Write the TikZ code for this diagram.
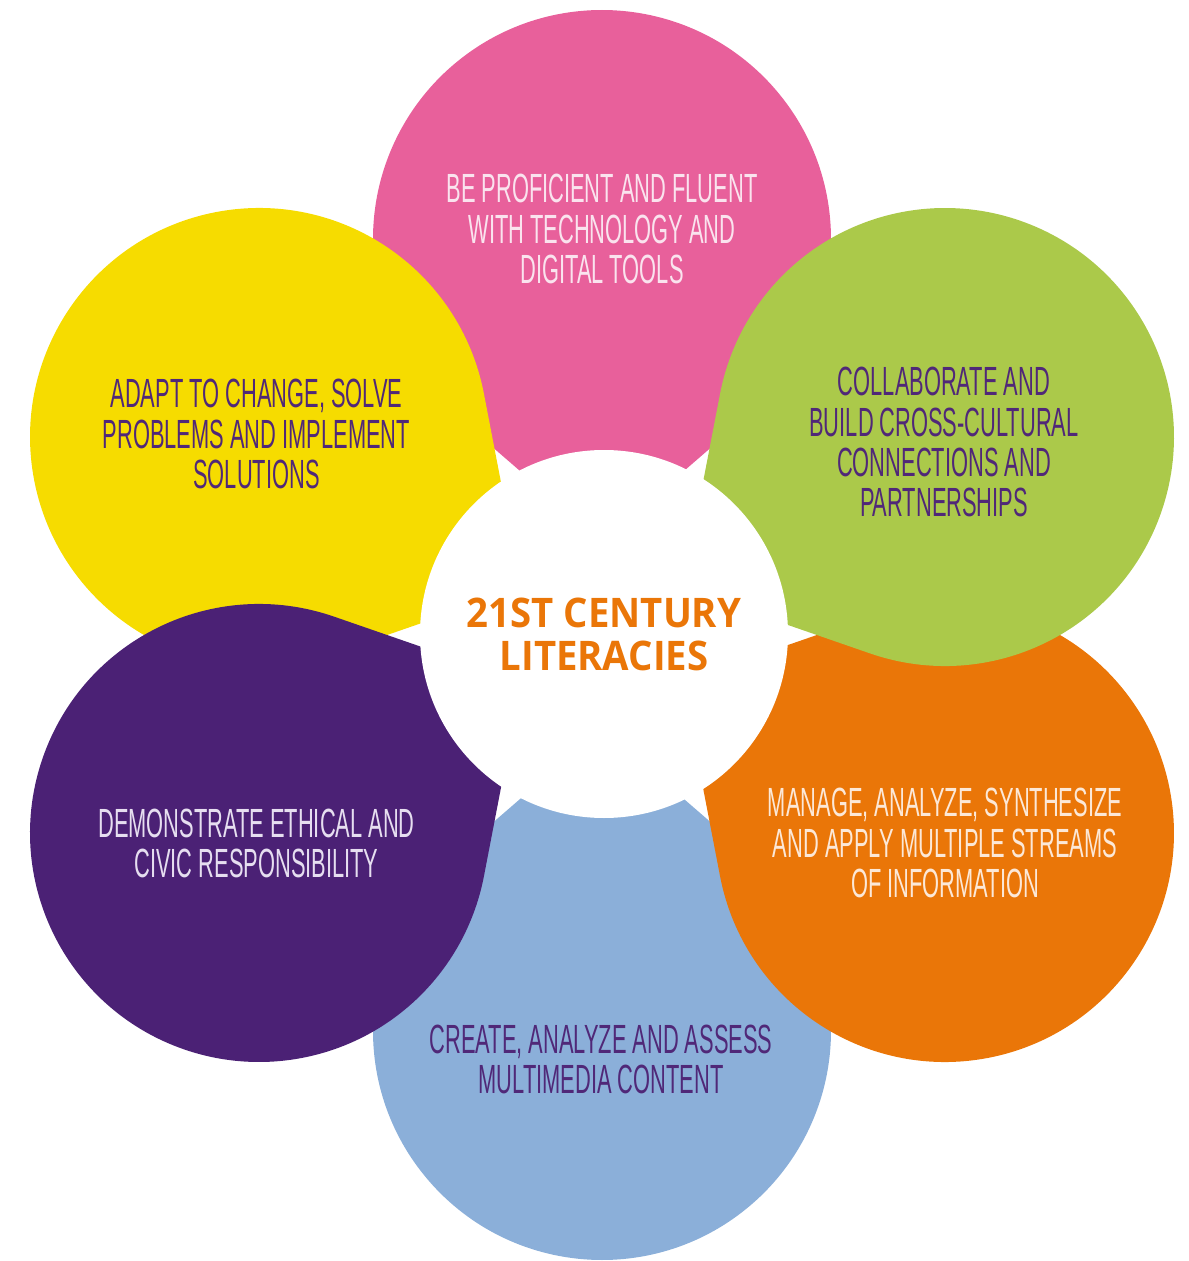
\documentclass[tikz,border=0pt]{standalone}
\usepackage{fontspec}
\usepackage{xcolor}
\usepackage{tikz}
\usetikzlibrary{positioning}
\setmainfont{Liberation Sans}
\newfontfamily\petalfont[FakeStretch=0.536]{Liberation Sans}
\newfontfamily\hubfont[FakeStretch=0.94]{Open Sans}
\definecolor{pinkpetal}{HTML}{E8609B}
\definecolor{yellowpetal}{HTML}{F6DC00}
\definecolor{greenpetal}{HTML}{ABC94A}
\definecolor{orangepetal}{HTML}{EA7608}
\definecolor{purplepetal}{HTML}{4B2175}
\definecolor{bluepetal}{HTML}{8BAFD9}
\definecolor{inkdark}{HTML}{502878}
\definecolor{inkpink}{HTML}{FAE3EE}
\definecolor{inkorange}{HTML}{FCE8D7}
\definecolor{inkpurple}{HTML}{E6DEF0}
\tikzset{
  petal_txt/.style = {align=center, inner sep=0pt, text centered,
    font=\petalfont\fontsize{11.6}{11.4}\selectfont},
  petal_d/.style = {petal_txt, text=inkdark},% dark text on light petal
  petal_l/.style = {petal_txt, text=#1},% light text on dark petal
  hub/.style = {circle, fill=white, minimum size=3.68cm, inner sep=0pt,
    align=center, text=orangepetal,
    font=\hubfont\bfseries\fontsize{11.6}{12.2}\selectfont}
}
% one drop: round head at 3.96 from the middle, tip at 0.93
\newcommand{\drop}[2]{%
  \fill[#2, rotate=#1] (0,0.93) -- ([shift={(0,3.96)}]-49.1:2.29)
    arc[start angle=-49.1, end angle=229.1, radius=2.29] -- cycle;}

\begin{document}
\begin{tikzpicture}
\useasboundingbox (-6.02,6.35) rectangle (5.87,-6.26);
% drops, back to front
\drop{0}{pinkpetal}
\drop{180}{bluepetal}
\drop{60}{yellowpetal}
\drop{-120}{orangepetal}
\drop{-60}{greenpetal}
\drop{120}{purplepetal}
\node [hub] (hub) at (0.02,0.01) {21ST CENTURY\\LITERACIES};
\node [petal_l=inkpink] (tech) at (0,4.06)
  {BE PROFICIENT AND FLUENT\\WITH TECHNOLOGY AND\\DIGITAL TOOLS};
\node [petal_d] (collab) at (3.42,1.93)
  {COLLABORATE AND\\BUILD CROSS-CULTURAL\\CONNECTIONS AND\\PARTNERSHIPS};
\node [petal_l=inkorange] (manage) at (3.43,-2.08)
  {MANAGE, ANALYZE, SYNTHESIZE\\AND APPLY MULTIPLE STREAMS\\OF INFORMATION};
\node [petal_d] (create) at (-0.01,-4.24)
  {CREATE, ANALYZE AND ASSESS\\MULTIMEDIA CONTENT};
\node [petal_l=inkpurple] (ethics) at (-3.455,-2.08)
  {DEMONSTRATE ETHICAL AND\\CIVIC RESPONSIBILITY};
\node [petal_d] (adapt) at (-3.455,2.01)
  {ADAPT TO CHANGE, SOLVE\\PROBLEMS AND IMPLEMENT\\SOLUTIONS};
\end{tikzpicture}
\end{document}
